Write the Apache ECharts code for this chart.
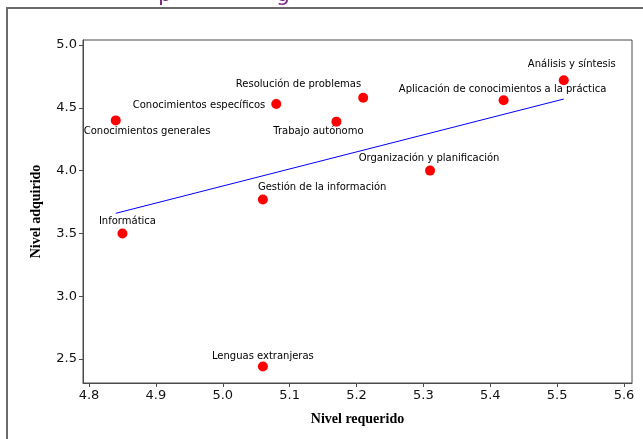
<!DOCTYPE html>
<html>
<head>
<meta charset="utf-8">
<script src="https://cdn.jsdelivr.net/npm/echarts@6/dist/echarts.min.js"></script>
<style>html,body{margin:0;padding:0;background:#fff;}#c{width:643px;height:439px;}</style>
</head>
<body>
<div id="c"></div>
<script>
// Data
var competencias = ["Conocimientos generales","Conocimientos específicos","Resolución de problemas","Trabajo autónomo","Aplicación de conocimientos a la práctica","Análisis y síntesis","Organización y planificación","Gestión de la información","Informática","Lenguas extranjeras"];
var nivelRequerido = [4.84, 5.08, 5.21, 5.17, 5.42, 5.51, 5.31, 5.06, 4.85, 5.06];
var nivelAdquirido = [4.40, 4.53, 4.58, 4.39, 4.56, 4.72, 4.00, 3.77, 3.50, 2.44];
var fitX = [4.84, 5.51];
var fitY = [3.66, 4.57];
var xTicks = [4.8, 4.9, 5.0, 5.1, 5.2, 5.3, 5.4, 5.5, 5.6];
var yTicks = [2.5, 3.0, 3.5, 4.0, 4.5, 5.0];

// label layout (align, dx, dy) per point
var labelLayout = [
  ['left', -32, 11], ['right', -11, 1], ['right', -2, -13], ['center', -18, 10],
  ['center', -1, -11], ['center', 8, -16], ['center', -1, -12], ['left', -5, -12],
  ['center', 5, -12], ['center', 0, -10]
];

var pts = competencias.map(function(n, i){
  var L = labelLayout[i];
  return {name: n, value: [nivelRequerido[i], nivelAdquirido[i]],
    label: {align: L[0], offset: [L[1], L[2]]}};
});
var fit = fitX.map(function(x, i){ return [x, fitY[i]]; });

var chart = echarts.init(document.getElementById('c'), null, {renderer:'canvas'});
var axisCol = '#4a4a4a';
chart.setOption({
  animation: false,
  grid: {left: 83, right: 11, top: 40, bottom: 56, show: true, borderColor: axisCol, borderWidth: 1, backgroundColor: '#fff'},
  xAxis: {
    type: 'value', min: 4.791, max: 5.612,
    name: 'Nivel requerido', nameLocation: 'middle', nameGap: 29,
    nameTextStyle: {fontFamily: 'Liberation Serif', fontWeight: 'bold', fontSize: 14, color: '#000'},
    axisLine: {show: true, lineStyle: {color: axisCol}},
    axisTick: {show: true, length: 4, lineStyle: {color: axisCol}, customValues: xTicks},
    axisLabel: {customValues: xTicks, fontFamily: 'DejaVu Sans', fontSize: 13, color: '#111', margin: 6,
      formatter: function(v){ return v.toFixed(1); }},
    splitLine: {show: false}
  },
  yAxis: {
    type: 'value', min: 2.309, max: 5.04,
    name: 'Nivel adquirido', nameLocation: 'middle', nameGap: 40,
    nameTextStyle: {fontFamily: 'Liberation Serif', fontWeight: 'bold', fontSize: 14, color: '#000'},
    axisLine: {show: true, lineStyle: {color: axisCol}},
    axisTick: {show: true, length: 4, lineStyle: {color: axisCol}, customValues: yTicks},
    axisLabel: {customValues: yTicks, fontFamily: 'DejaVu Sans', fontSize: 13, color: '#111', margin: 6,
      formatter: function(v){ return v.toFixed(1); }},
    splitLine: {show: false}
  },
  graphic: [
    {type: 'polyline', shape: {points: [[7, 460], [7, 8], [700, 8]]}, style: {stroke: '#6b6b6b', lineWidth: 2, fill: null}, silent: true},
    {type: 'text', left: 158, top: -16, style: {text: 'p', font: '22px "DejaVu Sans"', fill: '#7b2a80'}},
    {type: 'text', left: 276, top: -16, style: {text: 'g', font: '22px "DejaVu Sans"', fill: '#7b2a80'}}
  ],
  series: [
    {type: 'line', data: fit, symbol: 'none', lineStyle: {color: '#0000ff', width: 1}, z: 2},
    {type: 'scatter', data: pts, symbol: 'circle', symbolSize: 10,
      itemStyle: {color: '#ff0000', opacity: 1}, z: 3,
      label: {show: true, position: 'inside', verticalAlign: 'middle',
        formatter: function(p){ return p.name; },
        fontFamily: 'DejaVu Sans', fontSize: 10, color: '#000'}}
  ]
});
</script>
</body>
</html>
